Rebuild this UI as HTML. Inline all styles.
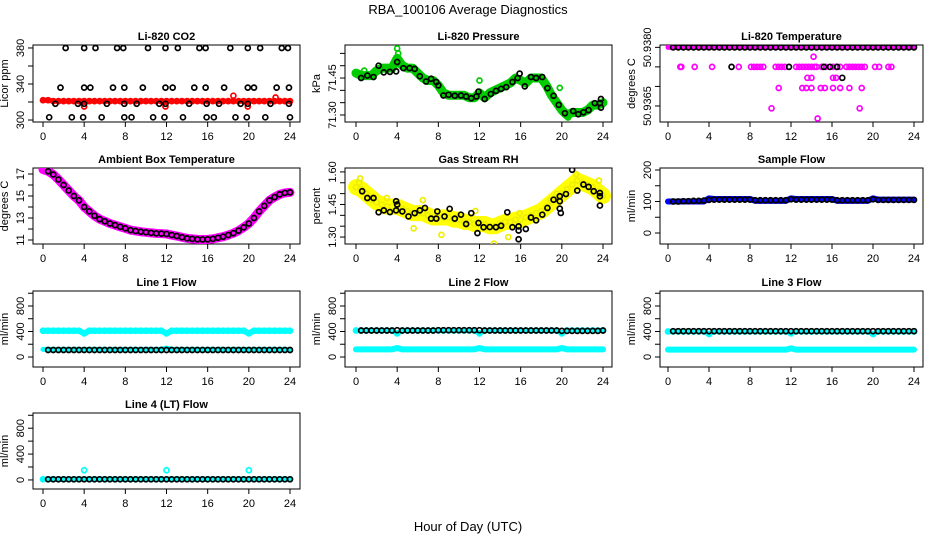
<!DOCTYPE html>
<html><head><meta charset="utf-8"><style>
html,body{margin:0;padding:0;background:#fff;}
svg{display:block;font-family:"Liberation Sans",sans-serif;}
</style></head><body>
<svg id="c" width="936" height="540" viewBox="0 0 936 540" xmlns="http://www.w3.org/2000/svg">
<text x="468" y="14" text-anchor="middle" font-size="13">RBA_100106  Average Diagnostics</text>
<text x="468" y="531" text-anchor="middle" font-size="13">Hour of Day (UTC)</text>
</svg>
<script>
// ---- data ----
const xTicks = [0,4,8,12,16,20,24];
const hh = [0,0.5,1,1.5,2,2.5,3,3.5,4,4.5,5,5.5,6,6.5,7,7.5,8,8.5,9,9.5,10,10.5,11,11.5,12,12.5,13,13.5,14,14.5,15,15.5,16,16.5,17,17.5,18,18.5,19,19.5,20,20.5,21,21.5,22,22.5,23,23.5,24];
const hb = [0.5,1,1.5,2,2.5,3,3.5,4,4.5,5,5.5,6,6.5,7,7.5,8,8.5,9,9.5,10,10.5,11,11.5,12,12.5,13,13.5,14,14.5,15,15.5,16,16.5,17,17.5,18,18.5,19,19.5,20,20.5,21,21.5,22,22.5,23,23.5,24];

const co2Red = [322,322,321,321,321,321,321,321,321,321,321,321,321,321,321,321,321,321,321,321,321,321,321,321,321,321,321,321,321,321,321,321,321,321,321,321,321,321,321,321,321,321,321,321,321,321,321,321,321];
const co2RedOutH = [4.0,11.9,18.5,19.9,22.6];
const co2RedOutV = [315,315,327,315,325];
const co2BlkH = [2.2,4.0,5.1,7.2,7.8,10.2,11.9,13.1,15.2,15.8,18.2,19.9,21.1,23.2,23.8, 1.7,4.0,4.6,6.8,7.9,9.7,11.9,12.6,14.7,15.8,17.6,19.9,20.5,22.7,23.9, 1.2,3.4,4.0,6.2,7.9,9.1,11.3,11.9,14.2,15.9,17.1,19.2,19.9,22.1,23.9, 0.6,2.8,3.9,5.7,7.9,8.6,10.7,11.8,13.6,15.9,16.6,18.7,19.8,21.6,24.0];
const co2BlkV = [380,380,380,380,380,380,380,380,380,380,380,380,380,380,380, 336,336,336,336,336,336,336,336,336,336,336,336,336,336,336, 318,318,318,318,318,318,318,318,318,318,318,318,318,318,318, 303,303,303,303,303,303,303,303,303,303,303,303,303,303,303];

const presGreen = [71.47,71.46,71.46,71.46,71.48,71.49,71.49,71.49,71.53,71.50,71.49,71.49,71.47,71.45,71.44,71.44,71.42,71.39,71.38,71.38,71.38,71.38,71.37,71.37,71.39,71.37,71.39,71.40,71.41,71.42,71.43,71.45,71.44,71.43,71.45,71.45,71.45,71.42,71.38,71.35,71.32,71.30,71.31,71.31,71.31,71.32,71.34,71.34,71.35];
const presOutH = [4.0,4.1,12.0,19.8,0.8,20.6];
const presOutV = [71.57,71.55,71.44,71.41,71.48,71.29];
const presBlkH = [0.5,1.1,1.7,2.2,2.7,3.3,3.9,4.0,4.6,5.2,5.7,6.2,6.8,7.3,7.8,8.0,8.5,9.0,9.6,10.2,10.7,11.2,11.7,11.9,12.5,13.1,13.6,14.1,14.6,15.2,15.7,15.9,16.4,17.0,17.5,18.1,18.6,19.2,19.7,20.3,21.1,21.6,22.1,22.6,23.2,23.7,23.8,23.8];
const presBlkV = [71.45,71.46,71.454,71.50,71.473,71.475,71.477,71.515,71.49,71.49,71.487,71.457,71.436,71.447,71.434,71.42,71.379,71.382,71.378,71.379,71.375,71.368,71.375,71.395,71.365,71.385,71.398,71.406,71.413,71.434,71.45,71.468,71.416,71.454,71.45,71.454,71.409,71.378,71.341,71.307,71.316,71.303,71.311,71.32,71.348,71.348,71.365,71.33];

const tempTop = [50.9380,50.9380,50.9380,50.9380,50.9380,50.9380,50.9380,50.9380,50.9380,50.9380,50.9380,50.9380,50.9380,50.9380,50.9380,50.9380,50.9380,50.9380,50.9380,50.9380,50.9380,50.9380,50.9380,50.9380,50.9380,50.9380,50.9380,50.9380,50.9380,50.9380,50.9380,50.9380,50.9380,50.9380,50.9380,50.9380,50.9380,50.9380,50.9380,50.9380,50.9380,50.9380,50.9380,50.9380,50.9380,50.9380,50.9380,50.9380,50.9380];
const tempMagH = [1.2,1.3,2.6,4.3,6.9,8.1,8.4,8.7,9.0,9.3,10.5,10.8,11.1,11.4,12.5,12.8,13.1,13.4,13.7,14.0,14.3,14.5,15.0,15.4,16.1,16.4,16.8,17.4,17.7,18.0,18.3,18.6,18.9,19.2,20.2,20.6,21.5,21.8, 13.6,14.0,16.1,16.4, 10.8,13.1,13.5,14.0,14.9,15.3,16.1,16.8,17.7,18.9, 10.1,18.7, 14.6, 14.2];
const tempMagV = [50.9375,50.9375,50.9375,50.9375,50.9375,50.9375,50.9375,50.9375,50.9375,50.9375,50.9375,50.9375,50.9375,50.9375,50.9375,50.9375,50.9375,50.9375,50.9375,50.9375,50.9375,50.9375,50.9375,50.9375,50.9375,50.9375,50.9375,50.9375,50.9375,50.9375,50.9375,50.9375,50.9375,50.9375,50.9375,50.9375,50.9375,50.9375, 50.93722,50.93722,50.93722,50.93722, 50.93696,50.93696,50.93696,50.93696,50.93696,50.93696,50.93696,50.93696,50.93696,50.93696, 50.93644,50.93644, 50.93618, 50.93776];
const tempBlkH = [6.2,11.8,15.2,15.8,16.5,17.0];
const tempBlkV = [50.9375,50.9375,50.9375,50.9375,50.9375,50.93722];

const ambVals = [17.4,17.25,16.95,16.5,16.0,15.5,15.0,14.6,14.0,13.6,13.2,12.9,12.7,12.5,12.35,12.2,12.06,11.9,11.82,11.75,11.7,11.65,11.6,11.58,11.55,11.45,11.36,11.25,11.15,11.1,11.06,11.05,11.06,11.1,11.2,11.3,11.45,11.62,11.85,12.15,12.5,13.0,13.6,14.1,14.6,14.9,15.15,15.28,15.33];

const rhYellow = [1.53,1.52,1.50,1.48,1.46,1.45,1.44,1.44,1.44,1.43,1.42,1.41,1.41,1.41,1.40,1.39,1.39,1.39,1.39,1.38,1.38,1.37,1.37,1.36,1.36,1.36,1.35,1.35,1.36,1.37,1.37,1.38,1.38,1.39,1.40,1.41,1.42,1.44,1.46,1.48,1.50,1.52,1.54,1.56,1.55,1.54,1.53,1.51,1.49];
const rhOutH = [0.4,0.3,1.5,3.0,6.5,8.3,13.4,14.8,15.9,18.9,19.5,21.4,23.6,11.6,5.6];
const rhOutV = [1.57,1.55,1.47,1.48,1.47,1.31,1.27,1.30,1.41,1.47,1.50,1.59,1.56,1.42,1.34];
const rhBlkH = [0.6,1.1,1.7,2.2,2.7,3.3,3.9,3.9,4.0,4.5,5.1,5.7,6.2,6.7,7.3,7.8,7.9,8.6,9.1,9.6,10.2,10.7,11.2,11.8,11.9,12.4,13.0,13.6,14.1,14.7,15.2,15.8,15.8,15.8,16.5,17.0,17.5,18.1,18.6,19.2,19.8,19.8,19.9,19.8,20.4,21.0,21.5,22.1,22.6,23.1,23.7,23.7,23.7];
const rhBlkV = [1.511,1.48,1.48,1.414,1.423,1.415,1.423,1.465,1.45,1.418,1.395,1.41,1.423,1.434,1.385,1.385,1.418,1.395,1.43,1.385,1.403,1.36,1.41,1.318,1.365,1.345,1.346,1.345,1.352,1.414,1.345,1.349,1.29,1.33,1.337,1.39,1.377,1.403,1.434,1.472,1.465,1.431,1.411,1.488,1.498,1.61,1.514,1.542,1.531,1.511,1.503,1.488,1.445];

const sampBlue = [100,100,100,100,100,100,100,100,110,108,108,108,108,108,108,108,108,102,102,102,102,102,102,102,110,108,108,108,108,108,108,108,108,102,102,102,102,102,102,102,110,106,106,106,106,106,106,106,106];
const sampBlk = [100,100,101,101,102,102,103,105,106,106,106,106,106,106,106,106,104,104,104,104,104,104,104,107,106,106,106,106,106,106,106,106,104,104,104,104,104,104,104,107,105,105,105,105,105,105,105,105];

const l1Top = [412,412,412,412,412,412,412,412,370,412,412,412,412,412,412,412,412,412,412,412,412,412,412,412,370,412,412,412,412,412,412,412,412,412,412,412,412,412,412,412,370,412,412,412,412,412,412,412,412];
const l1Bot = [120,120,120,120,120,120,120,120,120,120,120,120,120,120,120,120,120,120,120,120,120,120,120,120,140,120,120,120,120,120,120,120,120,120,120,120,120,120,120,120,120,120,120,120,120,120,120,120,120];
const l1Blk = [110,110,110,110,110,110,110,110,110,110,110,110,110,110,110,110,110,110,110,110,110,110,110,110,110,110,110,110,110,110,110,110,110,110,110,110,110,110,110,110,110,110,110,110,110,110,110,110];
const l2Top = [415,415,415,415,415,415,415,415,370,415,415,415,415,415,415,415,415,415,415,415,415,415,415,415,370,415,415,415,415,415,415,415,415,415,415,415,415,415,415,415,370,415,415,415,415,415,415,415,415];
const l2Bot = [120,120,120,120,120,120,120,120,140,120,120,120,120,120,120,120,120,120,120,120,120,120,120,120,140,120,120,120,120,120,120,120,120,120,120,120,120,120,120,120,140,120,120,120,120,120,120,120,120];
const l2Blk = [415,415,415,415,415,415,415,420,415,415,415,415,415,415,415,420,420,420,420,420,420,420,420,420,415,415,415,415,415,415,415,415,415,415,415,415,415,415,415,410,410,410,410,410,410,410,410,415];
const l3Top = [400,400,400,400,400,400,400,400,360,400,400,400,400,400,400,400,400,400,400,400,400,400,400,400,370,400,400,400,400,400,400,400,400,400,400,400,400,400,400,400,360,400,400,400,400,400,400,400,400];
const l3Bot = [115,115,115,115,115,115,115,115,115,115,115,115,115,115,115,115,115,115,115,115,115,115,115,115,135,115,115,115,115,115,115,115,115,115,115,115,115,115,115,115,115,115,115,115,115,115,115,115,115];
const l3Blk = [405,405,405,405,405,405,405,405,405,405,405,405,405,405,405,405,405,405,405,405,405,405,405,405,405,405,405,405,405,405,405,405,405,405,405,405,405,405,405,405,405,405,405,405,405,405,405,405];
const l4Cyan = [10,10,10,10,10,10,10,10,150,10,10,10,10,10,10,10,10,10,10,10,10,10,10,10,150,10,10,10,10,10,10,10,10,10,10,10,10,10,10,10,150,10,10,10,10,10,10,10,10];
const l4Blk = [10,10,10,10,10,10,10,10,10,10,10,10,10,10,10,10,10,10,10,10,10,10,10,10,10,10,10,10,10,10,10,10,10,10,10,10,10,10,10,10,10,10,10,10,10,10,10,10];

// ---- layout ----
const NS = 'http://www.w3.org/2000/svg';
const svg = document.getElementById('c');
const cols = [{l:33,r:300,x0:43,x1:290},{l:345,r:612,x0:356,x1:603},{l:660,r:923,x0:668,x1:914}];
const rows = [{t:45,b:122},{t:168,b:244},{t:291,b:367},{t:413,b:489}];
function mk(tag, attrs, parent){const e=document.createElementNS(NS,tag);for(const k in attrs)e.setAttribute(k,attrs[k]);(parent||svg).appendChild(e);return e;}

function panel(name, ci, ri, title, ylab, ymin, ymax, yticks, ylabels, showXLab){
  const c=cols[ci], r=rows[ri];
  const g=mk('g',{});
  
  
  const X=h=>c.x0+(h/24)*(c.x1-c.x0);
  const Y=v=>r.b-(v-ymin)/(ymax-ymin)*(r.b-r.t);
  const t=mk('text',{x:(c.l+c.r)/2,y:r.t-5,'text-anchor':'middle','font-size':11,'font-weight':'bold'},g);
  t.textContent=title;
  
  
  const box=mk('rect',{x:c.l,y:r.t,width:c.r-c.l,height:r.b-r.t,fill:'none',stroke:'#000','stroke-width':1},g);
  
  
  xTicks.forEach(h=>{
    mk('line',{x1:X(h),x2:X(h),y1:r.b,y2:r.b+5,stroke:'#000'},g);
    if(showXLab){const tl=mk('text',{x:X(h),y:r.b+18,'text-anchor':'middle','font-size':11},g);tl.textContent=h;
      
      }
  });
  yticks.forEach(v=>mk('line',{x1:c.l-5,x2:c.l,y1:Y(v),y2:Y(v),stroke:'#000'},g));
  ylabels.forEach(s=>{const v=parseFloat(s);const tx=c.l-9, ty=Y(v);
    const tl=mk('text',{x:tx,y:ty,'text-anchor':'middle','font-size':11,transform:`rotate(-90 ${tx} ${ty})`},g);tl.textContent=s;
    
    });
  const yl=mk('text',{x:c.l-25,y:(r.t+r.b)/2,'text-anchor':'middle','font-size':11,transform:`rotate(-90 ${c.l-25} ${(r.t+r.b)/2})`},g);
  yl.textContent=ylab;
  
  
  const clip='clip-'+name;
  const cp=mk('clipPath',{id:clip},g);mk('rect',{x:c.l,y:r.t,width:c.r-c.l,height:r.b-r.t},cp);
  const pg=mk('g',{'clip-path':`url(#${clip})`},g);
  return {X,Y,g:pg};
}
function band(p, hs, vs, color, w, label){
  const pl=mk('polyline',{points:hs.map((h,i)=>p.X(h)+','+p.Y(vs[i])).join(' '),fill:'none',stroke:color,'stroke-width':w,'stroke-linejoin':'round','stroke-linecap':'round'},p.g);
  
  
}
function pts(p, hs, vs, color, label){
  hs.forEach((h,i)=>{
    const ci=mk('circle',{cx:p.X(h),cy:p.Y(vs[i]),r:2.5,fill:'none',stroke:color,'stroke-width':1.7},p.g);
    
    
  });
}

// CO2
let p=panel('co2',0,0,'Li-820 CO2','Licor ppm',297.8,383.3,[300,320,340,360,380],['300','340','380'],true);
band(p,hh,co2Red,'#f00',5,'co2-red-band');pts(p,hh,co2Red,'#f00','co2-red-point');
pts(p,co2RedOutH,co2RedOutV,'#f00','co2-red-point');
pts(p,co2BlkH,co2BlkV,'#000','co2-black-point');
// Pressure
p=panel('pressure',1,0,'Li-820 Pressure','kPa',71.2716,71.584,[71.30,71.35,71.40,71.45,71.50,71.55],['71.30','71.45'],true);
band(p,hh,presGreen,'#0c0',9,'pressure-green-band');pts(p,hh,presGreen,'#0c0','pressure-green-point');
pts(p,presOutH,presOutV,'#0c0','pressure-green-point');
pts(p,presBlkH,presBlkV,'#000','pressure-black-point');
// Li-820 temperature
p=panel('li820-temp',2,0,'Li-820 Temperature','degrees C',50.93609,50.93806,[50.9365,50.9370,50.9375,50.9380],['50.9365','50.9380'],true);
band(p,hh,tempTop,'#f0f',5,'temp-magenta-band');
pts(p,tempMagH,tempMagV,'#f0f','temp-magenta-point');
pts(p,hb,tempTop.slice(1),'#000','temp-black-point');
pts(p,tempBlkH,tempBlkV,'#000','temp-black-point');
// Ambient
p=panel('ambient',0,1,'Ambient Box Temperature','degrees C',10.636,17.545,[11,12,13,14,15,16,17],['11','13','15','17'],true);
band(p,hh,ambVals,'#f0f',9,'ambient-magenta-band');
pts(p,hb,ambVals.slice(1),'#000','ambient-black-point');
// RH
p=panel('rh',1,1,'Gas Stream RH','percent',1.268,1.618,[1.30,1.35,1.40,1.45,1.50,1.55,1.60],['1.30','1.45','1.60'],true);
band(p,hh,rhYellow,'#ff0',16,'rh-yellow-band');pts(p,hh,rhYellow,'#ee0','rh-yellow-point');
pts(p,rhOutH,rhOutV,'#ee0','rh-yellow-point');
pts(p,rhBlkH,rhBlkV,'#000','rh-black-point');
// Sample flow
p=panel('sample-flow',2,1,'Sample Flow','ml/min',-34.9,206.3,[0,50,100,150,200],['0','100','200'],true);
band(p,hh,sampBlue,'#00f',6,'sample-blue-band');
pts(p,hb,sampBlk,'#000','sample-black-point');
// Line flows
const lt=[0,200,400,600,800,1000], ll=['0','400','800'];
p=panel('line1-flow',0,2,'Line 1 Flow','ml/min',-157,1035,lt,ll,true);
band(p,hh,l1Top,'#0ff',6,'line1-cyan-top');band(p,hh,l1Bot,'#0ff',5,'line1-cyan-bottom');
pts(p,hh,l1Top,'#0ff','line1-cyan-point');
pts(p,hb,l1Blk,'#000','line1-black-point');
p=panel('line2-flow',1,2,'Line 2 Flow','ml/min',-157,1035,lt,ll,true);
band(p,hh,l2Bot,'#0ff',6,'line2-cyan-bottom');band(p,hh,l2Top,'#0ff',5,'line2-cyan-top');
pts(p,hh,l2Top,'#0ff','line2-cyan-point');
pts(p,hb,l2Blk,'#000','line2-black-point');
p=panel('line3-flow',2,2,'Line 3 Flow','ml/min',-157,1035,lt,ll,true);
band(p,hh,l3Bot,'#0ff',6,'line3-cyan-bottom');band(p,hh,l3Top,'#0ff',5,'line3-cyan-top');
pts(p,hh,l3Top,'#0ff','line3-cyan-point');
pts(p,hb,l3Blk,'#000','line3-black-point');
p=panel('line4-flow',0,3,'Line 4 (LT) Flow','ml/min',-140,1035,lt,ll,true);
band(p,hh,l4Blk.concat([10]),'#0ff',5,'line4-cyan-band');
pts(p,hh,l4Cyan,'#0ff','line4-cyan-point');
pts(p,hb,l4Blk,'#000','line4-black-point');
</script>
</body></html>
